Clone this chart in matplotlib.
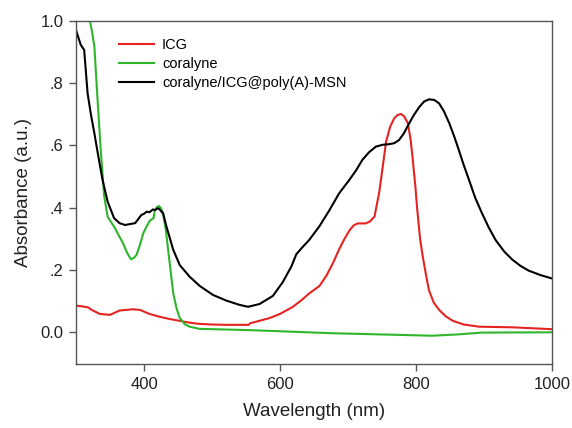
import matplotlib
matplotlib.use("Agg")
import matplotlib.pyplot as plt

plt.rcParams['font.family'] = ['Liberation Sans', 'DejaVu Sans']

# ICG
icg_wl = [300, 310, 318, 323, 335, 350, 364, 384, 394, 408, 423, 437, 452, 467, 482, 500, 521, 554, 556,
          570, 585, 600, 619, 632, 643, 658, 668, 678, 687, 695, 702, 708, 714, 720, 726, 732, 739, 746,
          751, 756, 762, 768, 773, 778, 783, 788, 792, 795, 799, 802, 806, 810, 815, 819, 826, 834, 844,
          854, 870, 893, 942, 1000]
icg_abs = [0.085, 0.082, 0.079, 0.071, 0.058, 0.055, 0.069, 0.073, 0.071, 0.058, 0.049, 0.042, 0.036,
           0.03, 0.026, 0.024, 0.023, 0.023, 0.028, 0.036, 0.045, 0.058, 0.081, 0.103, 0.124, 0.148,
           0.18, 0.222, 0.266, 0.3, 0.326, 0.342, 0.349, 0.349, 0.349, 0.355, 0.371, 0.45, 0.53, 0.612,
           0.66, 0.687, 0.698, 0.701, 0.692, 0.671, 0.62, 0.56, 0.47, 0.39, 0.3, 0.242, 0.18, 0.135,
           0.095, 0.071, 0.05, 0.036, 0.024, 0.017, 0.015, 0.009]

# coralyne
cor_wl = [318, 320.5, 324, 327, 332, 336.7, 341.5, 346.5, 351, 357, 363, 369, 375, 380.7, 385, 389, 394,
          399, 404, 408.6, 414, 416, 419, 422, 425, 428, 432, 435.5, 440, 443, 448, 452.6, 460, 467, 482,
          555, 677, 750, 824, 860, 897, 1000]
cor_abs = [1.08, 1.0, 0.96, 0.917, 0.735, 0.575, 0.435, 0.371, 0.355, 0.335, 0.31, 0.286, 0.255, 0.234,
           0.238, 0.248, 0.28, 0.318, 0.34, 0.358, 0.366, 0.392, 0.402, 0.405, 0.398, 0.38, 0.33, 0.264,
           0.18, 0.124, 0.075, 0.045, 0.025, 0.017, 0.01, 0.006, -0.004, -0.008, -0.012, -0.008,
           -0.002, -0.001]

# coralyne/ICG@poly(A)-MSN
mix_wl = [300, 303, 307, 312, 317, 322, 327, 332, 339, 346.5, 356, 364, 372, 387, 396, 400, 404, 408,
          413, 416, 421, 428, 433, 443, 452.6, 467, 482, 501.5, 521, 540.7, 553, 570, 589.5, 604, 616.6,
          624, 633.6, 643, 658, 672.8, 687, 702, 712, 721, 731, 741, 751, 761, 768, 775, 782, 790, 797,
          805, 812, 819, 827, 834, 841, 849, 856, 863, 870, 878, 887, 897, 907, 917, 930, 942, 954, 966,
          983, 1000]
mix_abs = [0.971, 0.95, 0.923, 0.907, 0.768, 0.698, 0.639, 0.575, 0.489, 0.419, 0.366, 0.35, 0.344,
           0.35, 0.376, 0.38, 0.387, 0.385, 0.394, 0.392, 0.398, 0.382, 0.339, 0.264, 0.215, 0.178,
           0.148, 0.119, 0.101, 0.087, 0.081, 0.09, 0.116, 0.16, 0.21, 0.25, 0.274, 0.296, 0.34, 0.392,
           0.446, 0.489, 0.52, 0.553, 0.578, 0.596, 0.602, 0.604, 0.607, 0.617, 0.638, 0.671, 0.698,
           0.724, 0.741, 0.748, 0.746, 0.735, 0.71, 0.671, 0.63, 0.585, 0.538, 0.489, 0.432, 0.382,
           0.336, 0.296, 0.258, 0.232, 0.212, 0.197, 0.183, 0.172]

xticks = [400, 600, 800, 1000]
yticks = [0.0, 0.2, 0.4, 0.6, 0.8, 1.0]
ytick_labels = ['0.0', '.2', '.4', '.6', '.8', '1.0']

fig = plt.figure(figsize=(5.72, 4.28), dpi=100)
ax = fig.add_axes([0.1329, 0.1495, 0.965 - 0.1329, 0.951 - 0.1495])

ax.plot(icg_wl, icg_abs, color='#e52421', lw=1.5, label='ICG')
ax.plot(cor_wl, cor_abs, color='#2fb52b', lw=1.5, label='coralyne')
ax.plot(mix_wl, mix_abs, color='#000000', lw=1.5, label='coralyne/ICG@poly(A)-MSN')

ax.set_xlim(300, 1000)
ax.set_ylim(-0.103, 1.0)
ax.set_xticks(xticks)
ax.set_xticklabels([str(t) for t in xticks])
ax.set_yticks(yticks)
ax.set_yticklabels(ytick_labels)
ax.tick_params(direction='out', length=5, width=1, color='#555555', labelsize=12, labelcolor='#222222', pad=4)

for s in ax.spines.values():
    s.set_color('#555555')
    s.set_linewidth(1)

ax.set_xlabel('Wavelength (nm)', fontsize=13.5, color='#222222', labelpad=8)
ax.set_ylabel('Absorbance (a.u.)', fontsize=13.5, color='#222222', labelpad=6)

ax.legend(loc='upper left', bbox_to_anchor=(0.078, 0.967), frameon=False, fontsize=10.5,
          handlelength=2.4, handletextpad=0.55, labelspacing=0.35, borderaxespad=0)

fig.savefig('out.png', dpi=100)
